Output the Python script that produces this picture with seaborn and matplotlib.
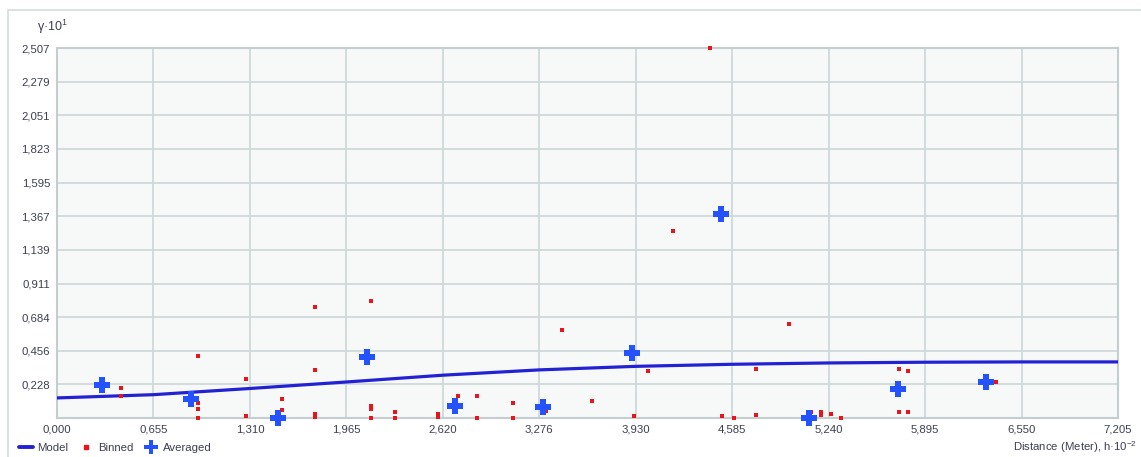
import matplotlib
matplotlib.use("Agg")
import matplotlib.pyplot as plt
from matplotlib.lines import Line2D
from matplotlib.patches import Rectangle
import seaborn as sns
import pandas as pd

# Semivariogram: binned pairs, averaged bins and fitted model (h in 1e2 m, gamma in 1e1)
binned_h = [0.432, 0.432, 0.955, 0.955, 0.955, 0.955, 1.281, 1.281, 1.530, 1.530,
            1.530, 1.752, 1.752, 1.752, 1.752, 2.130, 2.130, 2.130, 2.130, 2.293,
            2.293, 2.587, 2.587, 2.720, 2.854, 2.854, 3.096, 3.096, 3.324, 3.428,
            3.630, 3.917, 4.014, 4.182, 4.433, 4.515, 4.596, 4.750, 4.750, 4.972,
            5.119, 5.187, 5.187, 5.253, 5.322, 5.718, 5.780, 5.718, 5.780, 6.375]
binned_g = [0.201, 0.151, 0.421, 0.104, 0.059, 0.002, 0.262, 0.014, 0.127, 0.054,
            0.005, 0.755, 0.326, 0.025, 0.009, 0.792, 0.081, 0.059, 0.000, 0.043,
            0.002, 0.025, 0.004, 0.147, 0.147, 0.002, 0.104, 0.002, 0.050, 0.599,
            0.117, 0.014, 0.321, 1.267, 2.507, 0.014, 0.002, 0.332, 0.023, 0.636,
            0.043, 0.043, 0.020, 0.025, 0.002, 0.332, 0.319, 0.041, 0.041, 0.242]

averaged_h = [0.303, 0.907, 1.498, 2.107, 2.704, 3.302, 3.905, 4.506, 5.105, 5.711, 6.307]
averaged_g = [0.222, 0.127, 0.000, 0.416, 0.081, 0.073, 0.441, 1.384, 0.002, 0.198, 0.242]

model_h = [0.000, 0.655, 1.310, 1.965, 2.620, 3.275, 3.930, 4.585, 5.240, 5.895, 6.550, 7.205]
model_g = [0.136, 0.158, 0.200, 0.244, 0.290, 0.326, 0.350, 0.364, 0.373, 0.378, 0.380, 0.380]

x_ticks = [0.000, 0.655, 1.310, 1.965, 2.620, 3.275, 3.930, 4.585, 5.240, 5.895, 6.550, 7.205]
x_tick_labels = ["0,000", "0,655", "1,310", "1,965", "2,620", "3,276", "3,930",
                 "4,585", "5,240", "5,895", "6,550", "7,205"]
y_ticks = [0.228, 0.456, 0.684, 0.911, 1.139, 1.367, 1.595, 1.823, 2.051, 2.279, 2.507]
y_tick_labels = ["0,228", "0,456", "0,684", "0,911", "1,139", "1,367", "1,595",
                 "1,823", "2,051", "2,279", "2,507"]

sns.set_style("white")
plt.rcParams["font.family"] = ["Liberation Sans", "DejaVu Sans"]

MODEL_C = "#2222d4"
BIN_C = "#e8141e"
AVG_C = "#2452ff"
TEXT_C = "#3c3f52"
GRID_C = "#d0d9d9"

W, H = 1141, 457
fig = plt.figure(figsize=(W / 100, H / 100), dpi=100)
fig.patch.set_facecolor("white")

# outer panel frame
fig.add_artist(Rectangle((8 / W, -0.02), (W - 8) / W + 0.05, (H - 10) / H + 0.02,
                         transform=fig.transFigure, fill=False,
                         edgecolor="#d6dddd", lw=1.2))

left, right, top, bottom = 57, 1118, 48, 418
ax = fig.add_axes([left / W, 1 - bottom / H, (right - left) / W, (bottom - top) / H])
ax.set_facecolor("#f7f9f9")

model_df = pd.DataFrame({"h": model_h, "g": model_g})
binned_df = pd.DataFrame({"h": binned_h, "g": binned_g})
avg_df = pd.DataFrame({"h": averaged_h, "g": averaged_g})

sns.lineplot(data=model_df, x="h", y="g", ax=ax, color=MODEL_C, lw=2.3, zorder=3)
sns.scatterplot(data=binned_df, x="h", y="g", ax=ax, color=BIN_C, marker="s",
                s=9, linewidth=0, zorder=4, clip_on=False)
sns.scatterplot(data=avg_df, x="h", y="g", ax=ax, color=AVG_C, marker="P",
                s=120, linewidth=0, zorder=5, clip_on=False)

ax.set_xlim(0, 7.205)
ax.set_ylim(0, 2.507)
ax.set_xticks(x_ticks)
ax.set_xticklabels(x_tick_labels)
ax.set_yticks(y_ticks)
ax.set_yticklabels(y_tick_labels)
ax.tick_params(axis="both", length=0, labelsize=8.2, labelcolor=TEXT_C)
ax.tick_params(axis="x", pad=5)
ax.tick_params(axis="y", pad=5)
ax.grid(True, color=GRID_C, lw=1.3)
ax.set_axisbelow(True)
for sp in ax.spines.values():
    sp.set_color("#c5cece")
    sp.set_linewidth(1.5)
ax.set_xlabel("")
ax.set_ylabel("")

# axis captions
fig.text(37 / W, 1 - 27 / H, r"$\mathregular{γ·10^{1}}$", fontsize=9,
         color=TEXT_C, ha="left", va="center")
fig.text(1137 / W, 1 - 447 / H, r"Distance (Meter), $\mathregular{h·10^{-2}}$",
         fontsize=8.2, color=TEXT_C, ha="right", va="center")

handles = [Line2D([], [], color=MODEL_C, lw=2.8),
           Line2D([], [], color=BIN_C, marker="s", ms=2.5, ls="none"),
           Line2D([], [], color=AVG_C, marker="P", ms=9.5, ls="none", mew=0)]
leg = fig.legend(handles, ["Model", "Binned", "Averaged"], loc="center left",
                 bbox_to_anchor=(12 / W, 1 - 448 / H), bbox_transform=fig.transFigure,
                 ncol=3, frameon=False, fontsize=8.2, handlelength=1.2,
                 handletextpad=0.4, columnspacing=1.0, borderpad=0.1)
for t in leg.get_texts():
    t.set_color(TEXT_C)

fig.savefig("out.png", dpi=100)
